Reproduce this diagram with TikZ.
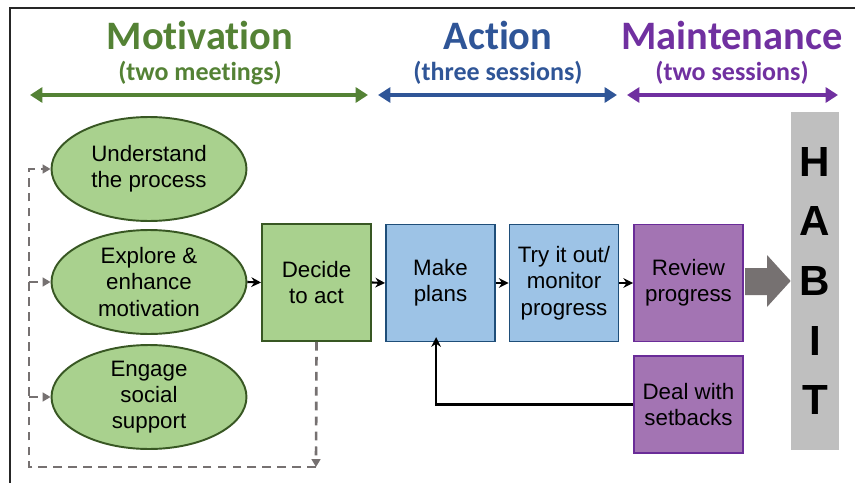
\documentclass[tikz,border=0pt]{standalone}
\usepackage{fontspec}
\setmainfont{Liberation Sans}
\newfontfamily\headfont[Ligatures=NoCommon]{Carlito}
\usepackage{tikz}
\usetikzlibrary{positioning}
\usetikzlibrary{arrows.meta,shapes.geometric}
\usetikzlibrary{calc}

\definecolor{motgreen}{HTML}{548235}
\definecolor{actblue}{HTML}{2F5597}
\definecolor{mntpurple}{HTML}{7030A0}
\definecolor{greenfill}{HTML}{A9D18E}
\definecolor{greenline}{HTML}{385723}
\definecolor{bluefill}{HTML}{9DC3E6}
\definecolor{blueline}{HTML}{1F4E79}
\definecolor{purplefill}{HTML}{A374B3}
\definecolor{purpleline}{HTML}{6A2C98}
\definecolor{dashgray}{HTML}{767171}
\definecolor{arrowgray}{HTML}{767171}

\begin{document}
\begin{tikzpicture}[x=0.02cm, y=-0.02cm,
  boxtext/.style={font=\fontsize{12.7}{15}\selectfont, align=center},
  stage/.style={ellipse, draw=greenline, fill=greenfill, line width=1.1pt,
    minimum width=3.9cm, minimum height=2.08cm, inner sep=0pt, boxtext},
  greenbox/.style={rectangle, draw=greenline, fill=greenfill, line width=1.1pt,
    minimum width=2.18cm, minimum height=2.34cm, boxtext},
  bluebox/.style={rectangle, draw=blueline, fill=bluefill, line width=1.1pt,
    minimum width=2.18cm, minimum height=2.34cm, boxtext},
  purplebox/.style={rectangle, draw=purpleline, fill=purplefill, line width=1.1pt,
    minimum width=2.18cm, minimum height=2.34cm, boxtext},
  flow/.style={-{Stealth[length=5.5pt,width=5.5pt]}, line width=1.2pt},
  dashline/.style={dashgray, line width=1.5pt, dash pattern=on 5pt off 3.5pt},
  dashtip/.style={-{Triangle[length=4.5pt,width=5pt]}},
  span/.style={{Triangle[length=7pt,width=8.5pt]}-{Triangle[length=7pt,width=8.5pt]}, line width=2.6pt},
  title/.style={font=\headfont\bfseries\fontsize{23}{26}\selectfont},
  subtitle/.style={font=\headfont\bfseries\fontsize{14.8}{17}\selectfont}]
\useasboundingbox (0,0) rectangle (855,483);

% frame
\draw[line width=1.1pt, black!85] (10,483) -- (10,8) -- (855,8);

% phase headings
\node[title, motgreen] (tmot) at (200,35) {Motivation};
\node[subtitle, motgreen] (smot) at (200,73) {(two meetings)};
\node[title, actblue] (tact) at (498,35) {Action};
\node[subtitle, actblue] (sact) at (498,73) {(three sessions)};
\node[title, mntpurple] (tmnt) at (732,35) {Maintenance};
\node[subtitle, mntpurple] (smnt) at (732,73) {(two sessions)};

\coordinate (motL) at (30,95);
\coordinate (motR) at (368,95);
\coordinate (actL) at (378,95);
\coordinate (actR) at (617,95);
\coordinate (mntL) at (627,95);
\coordinate (mntR) at (838,95);
\draw[span, motgreen] (motL) -- (motR);
\draw[span, actblue] (actL) -- (actR);
\draw[span, mntpurple] (mntL) -- (mntR);

% motivation stages
\node[stage] (understand) at (149,169) {Understand\\the process};
\node[stage] (explore) at (149,282) {Explore \&\\enhance\\motivation};
\node[stage] (engage) at (149,397) {Engage\\social\\support};
\node[greenbox] (decide) at (316.5,282.5) {Decide\\to act};

% action and maintenance
\node[bluebox] (plans) at (440.5,283) {Make\\plans};
\node[bluebox] (tryout) at (564,283) {Try it out/\\monitor\\progress};
\node[purplebox] (review) at (688.5,283) {Review\\progress};
\node[purplebox, minimum height=1.94cm] (setbacks) at (688.5,404.5) {Deal with\\setbacks};

% habit bar
\node[rectangle, fill=black!25, minimum width=0.96cm, minimum height=6.76cm,
  align=center, font=\bfseries\fontsize{24}{34}\selectfont] (habit) at (815,281)
  {H\\A\\B\\I\\T};

% big arrow into habit
\fill[arrowgray] (745,268) -- (767,268) -- (767,255)
  -- (habit.west |- 0,281) -- (767,307) -- (767,295) -- (745,295) -- cycle;

% flow arrows
\draw[flow] (explore.east) -- (decide.west);
\draw[flow] (decide.east) -- (plans.west);
\draw[flow] (plans.east) -- (tryout.west);
\draw[flow] (tryout.east) -- (review.west);
\draw[flow] (setbacks.west) -| ([xshift=-2.5pt, yshift=3pt]plans.south);

% dashed return loop
\coordinate (corner) at (316,467);
\coordinate (leftc) at (29,467);
\draw[dashline, dashtip] (decide.south) -- (corner);
\draw[dashline, dashtip] (corner) -- (leftc) |- (understand.west);
\draw[dashline, dashtip] (leftc |- explore.west) -- (explore.west);
\draw[dashline, dashtip] (leftc |- engage.west) -- (engage.west);
\end{tikzpicture}
\end{document}
